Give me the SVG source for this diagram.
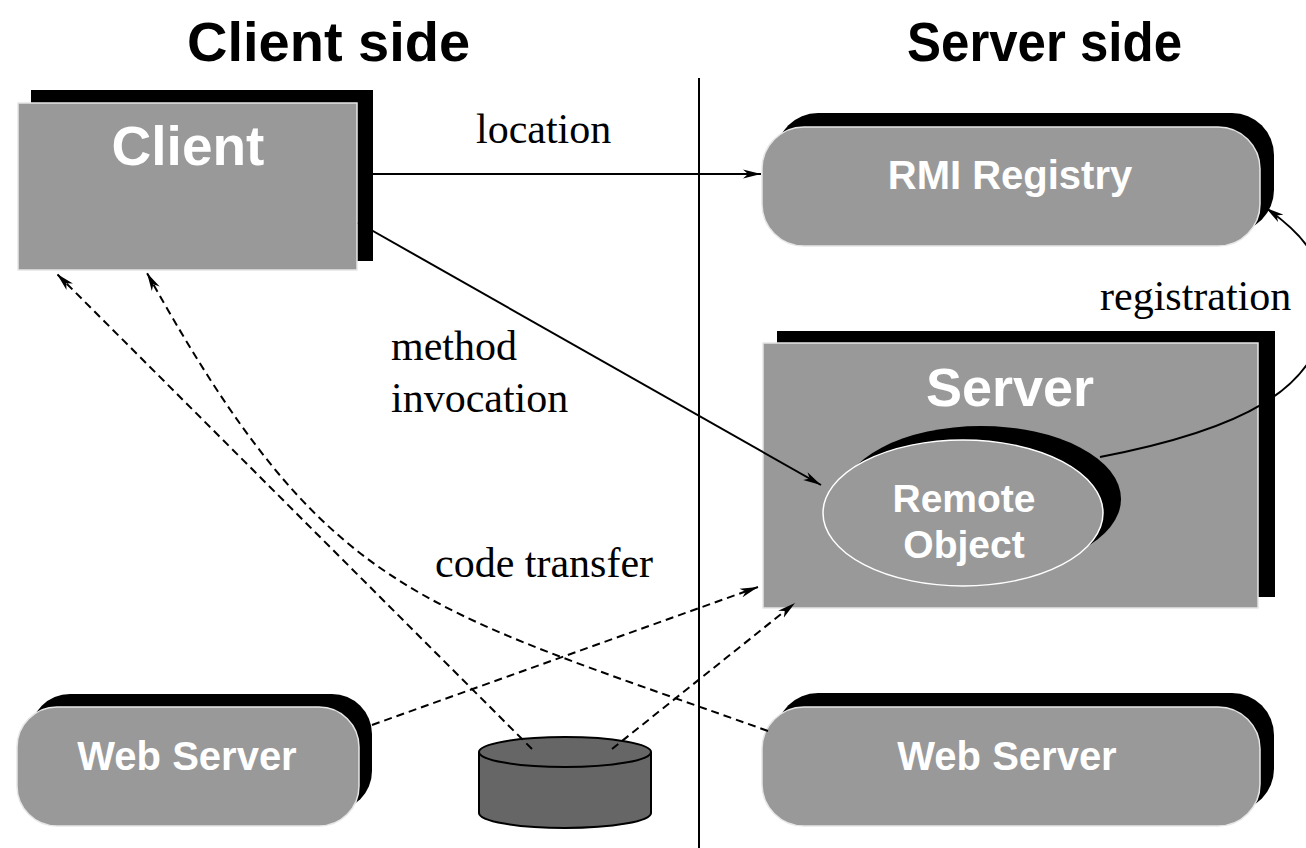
<svg xmlns="http://www.w3.org/2000/svg" width="1306" height="848" viewBox="0 0 1306 848">
<defs>
<marker id="arr" viewBox="0 0 18 10" refX="18" refY="5" markerWidth="18" markerHeight="10" markerUnits="userSpaceOnUse" orient="auto">
<path d="M0,0.5 L18,5 L0,9.5 L5,5 Z" fill="#000"/>
</marker>
</defs>
<style>
.shadow{fill:#000}
.box{fill:#999;stroke:#e6e6e6;stroke-width:1.5}
.lbl{font-family:"Liberation Sans",Arial,sans-serif;font-weight:bold;fill:#fff;text-anchor:middle}
.head{font-family:"Liberation Sans",Arial,sans-serif;font-weight:bold;fill:#000;font-size:56px}
.note{font-family:"Liberation Serif","Times New Roman",serif;font-size:42px;fill:#000}
.solid{fill:none;stroke:#000;stroke-width:2}
.dash{fill:none;stroke:#000;stroke-width:2;stroke-dasharray:8 5}
</style>
<rect width="1306" height="848" fill="#fff"/>
<g id="headings">
<text class="head" x="187" y="61">Client side</text>
<text class="head" x="907" y="61" textLength="275" lengthAdjust="spacingAndGlyphs">Server side</text>
</g>
<g id="divider">
<line x1="699" y1="78" x2="699" y2="848" stroke="#000" stroke-width="2"/>
</g>
<g id="client">
<rect class="shadow" x="31" y="90" width="342" height="171"/>
<rect class="box" x="18" y="103" width="339" height="167"/>
<text class="lbl" x="188" y="165" font-size="55">Client</text>
</g>
<g id="rmi-registry">
<rect class="shadow" x="776" y="113" width="498" height="119" rx="42" ry="42"/>
<rect class="box" x="762" y="127" width="498" height="119" rx="42" ry="42"/>
<text class="lbl" x="1010" y="189" font-size="40">RMI Registry</text>
</g>
<g id="server">
<rect class="shadow" x="777" y="331" width="498" height="266"/>
<rect class="box" x="763" y="343" width="495" height="265"/>
<text class="lbl" x="1010" y="406" font-size="54">Server</text>
</g>
<g id="remote-object">
<ellipse class="shadow" cx="981" cy="499" rx="140" ry="73"/>
<ellipse cx="963" cy="513" rx="140" ry="73" fill="#999" stroke="#fff" stroke-width="1.5"/>
<text class="lbl" x="964" y="512" font-size="39">Remote</text>
<text class="lbl" x="964" y="558" font-size="39">Object</text>
</g>
<g id="web-server-client">
<rect class="shadow" x="30" y="694" width="342" height="117" rx="40" ry="40"/>
<rect class="box" x="17" y="707" width="342" height="119" rx="40" ry="40"/>
<text class="lbl" x="187" y="770" font-size="40">Web Server</text>
</g>
<g id="web-server-server">
<rect class="shadow" x="776" y="693" width="498" height="118" rx="42" ry="42"/>
<rect class="box" x="762" y="707" width="498" height="119" rx="42" ry="42"/>
<text class="lbl" x="1007" y="770" font-size="40">Web Server</text>
</g>
<g id="code-store">
<path d="M479,752 L479,813 A86,15 0 0 0 651,813 L651,752" fill="#666" stroke="#000" stroke-width="2"/>
<ellipse cx="565" cy="752" rx="86" ry="15" fill="#666" stroke="#000" stroke-width="2"/>
</g>
<g id="connectors">
<line class="solid" x1="373" y1="174" x2="761" y2="174" marker-end="url(#arr)"/>
<line class="solid" x1="358" y1="222.5" x2="821" y2="485" marker-end="url(#arr)"/>
<path class="solid" d="M1100,457 C1230,432 1330,392 1325,300 C1322,255 1300,232 1266,208" marker-end="url(#arr)"/>
<path class="dash" d="M532,749 L57,274" marker-end="url(#arr)"/>
<path class="dash" d="M768,731 C413,604 327,597 147,273" marker-end="url(#arr)"/>
<path class="dash" d="M372,725 L758,587" marker-end="url(#arr)"/>
<path class="dash" d="M612,749 L795,603" marker-end="url(#arr)"/>
</g>
<g id="labels">
<text class="note" x="476" y="143">location</text>
<text class="note" x="391" y="360">method</text>
<text class="note" x="391" y="412">invocation</text>
<text class="note" x="1100" y="310">registration</text>
<text class="note" x="435" y="577">code transfer</text>
</g>
</svg>
